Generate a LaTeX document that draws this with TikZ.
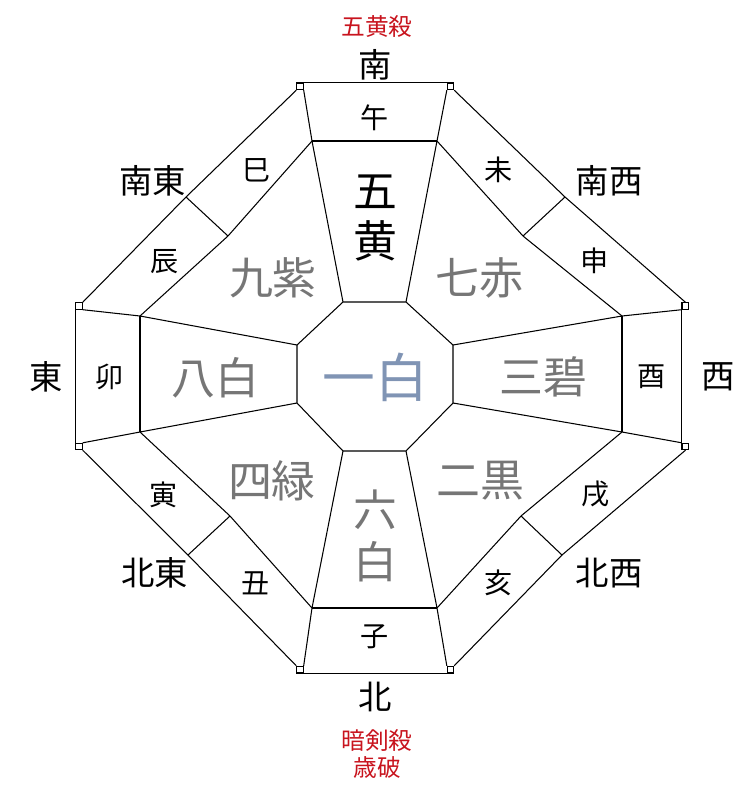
\documentclass[tikz,border=0pt]{standalone}
\usepackage{fontspec}
\usepackage{xcolor}
\usetikzlibrary{positioning}
\newfontfamily\jpfont{Noto Sans CJK JP}
\definecolor{starGray}{RGB}{118,118,118}
\definecolor{starBlue}{RGB}{128,148,180}
\definecolor{warnRed}{RGB}{200,20,30}

\begin{document}
\begin{tikzpicture}[x=0.02cm,y=-0.02cm]
		\tikzstyle{every node}=[inner sep=0pt]
		\tikzstyle{ring}=[draw=black,line width=0.6pt]
		\tikzstyle{corner}=[draw=black,line width=0.5pt,fill=white,minimum size=0.13cm,inner sep=0pt]
		\tikzstyle{star}=[text=starGray,font=\jpfont\fontsize{25}{28}\selectfont]
		\tikzstyle{zodiac}=[text=black,font=\jpfont\fontsize{16}{18}\selectfont]
		\tikzstyle{compass}=[text=black,font=\jpfont\fontsize{19}{21}\selectfont]
		\tikzstyle{warn}=[text=warnRed,align=center,font=\jpfont\fontsize{13.5}{15.9}\selectfont]
		\useasboundingbox (0,0) rectangle (756,789);
		% corner squares
		\node[corner] (sqN1) at (300,86.5) {};
		\node[corner] (sqN2) at (450.5,86.5) {};
		\node[corner] (sqE1) at (685.5,306) {};
		\node[corner] (sqE2) at (685.5,446.5) {};
		\node[corner] (sqS2) at (450.5,669.5) {};
		\node[corner] (sqS1) at (300,669.5) {};
		\node[corner] (sqW2) at (79,446.5) {};
		\node[corner] (sqW1) at (79,306) {};
		% inner octagon
		\coordinate (o1) at (343,302);
		\coordinate (o2) at (406,302);
		\coordinate (o3) at (453,345);
		\coordinate (o4) at (453,403);
		\coordinate (o5) at (406,451);
		\coordinate (o6) at (343,451);
		\coordinate (o7) at (297,403);
		\coordinate (o8) at (297,345);
		% palace / zodiac boundary
		\coordinate (mN1) at (312,141);
		\coordinate (mN2) at (437,141);
		\coordinate (mE1) at (622,316);
		\coordinate (mE2) at (622,432);
		\coordinate (mS2) at (437,608);
		\coordinate (mS1) at (312,608);
		\coordinate (mW2) at (140,432);
		\coordinate (mW1) at (140,316);
		% diagonal dividers
		\coordinate (dNWi) at (228,236);
		\coordinate (dNWo) at (186,197);
		\coordinate (dNEi) at (523,236);
		\coordinate (dNEo) at (565,197);
		\coordinate (dSEi) at (521,516);
		\coordinate (dSEo) at (562,555);
		\coordinate (dSWi) at (230,516);
		\coordinate (dSWo) at (188,555);

		\draw[ring] (o1) -- (o2) -- (o3) -- (o4) -- (o5) -- (o6) -- (o7) -- (o8) -- cycle;
		\draw[ring] (sqN1.north west) -- (sqN2.north east);
		\draw[ring] (sqS1.south west) -- (sqS2.south east);
		\draw[ring] (sqW1.north west) -- (sqW2.south west);
		\draw[ring] (sqE1.north west) -- (sqE2.south west);
		\draw[ring] (sqN1.south east) -- (mN1) -- (o1);
		\draw[ring] (sqN2.south west) -- (mN2) -- (o2);
		\draw[ring] (sqE1.south west) -- (mE1) -- (o3);
		\draw[ring] (sqE2.north west) -- (mE2) -- (o4);
		\draw[ring] (sqS2.north west) -- (mS2) -- (o5);
		\draw[ring] (sqS1.north east) -- (mS1) -- (o6);
		\draw[ring] (sqW2.north east) -- (mW2) -- (o7);
		\draw[ring] (sqW1.south east) -- (mW1) -- (o8);
		\path[ring]
		(mN1) edge (mN2)
		(mS1) edge (mS2)
		(mW1) edge (mW2)
		(mE1) edge (mE2)
		(dNWi) edge (dNWo)
		(dNEi) edge (dNEo)
		(dSEi) edge (dSEo)
		(dSWi) edge (dSWo);
		\draw[ring] (sqN1.south west) -- (dNWo) -- (sqW1.north east);
		\draw[ring] (sqN2.south east) -- (dNEo) -- (sqE1.north);
		\draw[ring] (sqS2.north east) -- (dSEo) -- (sqE2.south);
		\draw[ring] (sqS1.north west) -- (dSWo) -- (sqW2.south east);
		\draw[ring] (mN1) -- (dNWi) -- (mW1);
		\draw[ring] (mN2) -- (dNEi) -- (mE1);
		\draw[ring] (mS2) -- (dSEi) -- (mE2);
		\draw[ring] (mS1) -- (dSWi) -- (mW2);

		% nine stars
		\node[star,text=starBlue,font=\jpfont\fontsize{30}{32}\selectfont] (center) at (375,377) {一白};
		\node[star,text=black,align=center,font=\jpfont\fontsize{25}{28.4}\selectfont] (north) at (375,218) {五\\黄};
		\node[star,align=center,font=\jpfont\fontsize{25}{29.5}\selectfont] (south) at (375,536) {六\\白};
		\node[star] (kyushi) at (273,278) {九紫};
		\node[star] (shichiseki) at (479,278) {七赤};
		\node[star] (happaku) at (215,378) {八白};
		\node[star] (sanpeki) at (543,377) {三碧};
		\node[star] (shiroku) at (272,481) {四緑};
		\node[star] (jikoku) at (480,481) {二黒};
		% twelve branches
		\node[zodiac] (uma) at (375,118) {午};
		\node[zodiac] (hitsuji) at (499,170) {未};
		\node[zodiac] (saru) at (595,261) {申};
		\node[zodiac] (tori) at (652,377) {酉};
		\node[zodiac] (inu) at (596,494) {戌};
		\node[zodiac] (i) at (499,583) {亥};
		\node[zodiac] (ne) at (375,637) {子};
		\node[zodiac] (ushi) at (256,583) {丑};
		\node[zodiac] (tora) at (164,495) {寅};
		\node[zodiac] (u) at (110,377) {卯};
		\node[zodiac] (tatsu) at (165,262) {辰};
		\node[zodiac] (mi) at (257,170) {巳};
		% directions
		\node[compass] (minami) at (375,65) {南};
		\node[compass] (kita) at (375,697) {北};
		\node[compass] (higashi) at (46,377) {東};
		\node[compass] (nishi) at (718,377) {西};
		\node[compass] (nantou) at (153,181) {南東};
		\node[compass] (nansei) at (609,181) {南西};
		\node[compass] (hokutou) at (155,573) {北東};
		\node[compass] (hokusei) at (609,573) {北西};
		\node[warn] (gooh) at (377,27) {五黄殺};
		\node[warn] (anken) at (377,754) {暗剣殺\\歳破};
	\end{tikzpicture}
\end{document}
